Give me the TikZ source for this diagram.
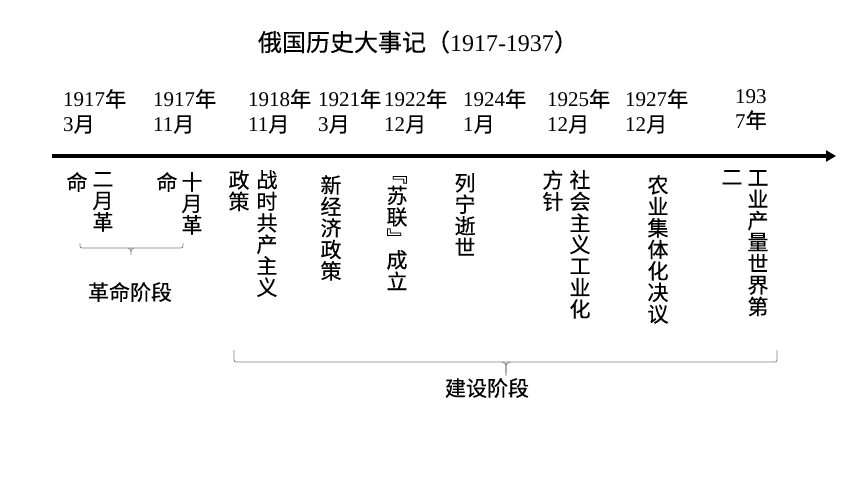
\documentclass[tikz,border=0pt]{standalone}
\usepackage{fontspec}
\setmainfont{Liberation Serif}
\newfontfamily\cjk{Noto Sans CJK SC}[FakeBold=0.3]
\usetikzlibrary{arrows.meta}

\newcommand\ym[2]{#1{\cjk 年}\\#2{\cjk 月}}

\begin{document}
\begin{tikzpicture}[x=1pt, y=1pt,
    date/.style={anchor=north west, align=left, inner sep=0pt, font=\fontsize{21}{25}\selectfont},
    vcol/.style={anchor=north, align=center, inner sep=0pt, font=\cjk\fontsize{21}{21.5}\selectfont},
    phase/.style={inner sep=0pt, font=\cjk\fontsize{21}{21}\selectfont},
    curly/.style={draw=gray, line width=0.8pt, rounded corners=2pt}]
    \useasboundingbox (0,0) rectangle (860,-484);

    % title
    \node[inner sep=0pt, font=\fontsize{24}{24}\selectfont] at (418,-42) (title)
        {{\cjk 俄国历史大事记（}1917-1937{\cjk ）}};

    % dates
    \node[date] at (63,-89) (d1) {\ym{1917}{3}};
    \node[date] at (153,-89) (d2) {\ym{1917}{11}};
    \node[date] at (248,-89) (d3) {\ym{1918}{11}};
    \node[date] at (318,-89) (d4) {\ym{1921}{3}};
    \node[date] at (384,-89) (d5) {\ym{1922}{12}};
    \node[date] at (463,-89) (d6) {\ym{1924}{1}};
    \node[date] at (547,-89) (d7) {\ym{1925}{12}};
    \node[date] at (625,-89) (d8) {\ym{1927}{12}};
    \node[date] at (735,-89) (d9) {193\\7{\cjk 年}};

    % time axis
    \coordinate (axL) at (52,-156);
    \coordinate (axR) at (836,-156);
    \draw[line width=4pt, -{Triangle[length=10pt, width=11pt]}] (axL) -- (axR);

    % events
    \node[vcol] at (103,-172) (e1) {二\\月\\革};
    \node[vcol] at (77,-172) (e1b) {命};
    \node[vcol] at (192,-172) (e2) {十\\月\\革};
    \node[vcol] at (167,-172) (e2b) {命};
    \node[vcol] at (267,-170) (e3) {战\\时\\共\\产\\主\\义};
    \node[vcol] at (239,-170) (e3b) {政\\策};
    \node[vcol] at (331,-175) (e4) {新\\经\\济\\政\\策};
    \node[vcol] at (397,-176) (e5) {﹃\\苏\\联\\﹄\\成\\立};
    \node[vcol] at (465,-173) (e6) {列\\宁\\逝\\世};
    \node[vcol] at (580,-170) (e7) {社\\会\\主\\义\\工\\业\\化};
    \node[vcol] at (553,-170) (e7b) {方\\针};
    \node[vcol] at (658,-175) (e8) {农\\业\\集\\体\\化\\决\\议};
    \node[vcol] at (758,-170) (e9) {工\\业\\产\\量\\世\\界\\第};
    \node[vcol] at (732,-170) (e9b) {二};

    % phases
    \coordinate (r1) at (80,-243);
    \coordinate (r2) at (183,-243);
    \coordinate (rm) at (131,-248);
    \coordinate (rt) at (131,-256);
    \draw[curly] (r1) |- (rm) -| (r2);
    \draw[curly] (rm) ++(-3,0) to[out=0, in=90] (rt) to[out=90, in=180] ++(3,8);
    \node[phase] at (130,-292) (rev) {革命阶段};

    \coordinate (c1) at (234,-350);
    \coordinate (c2) at (777,-350);
    \coordinate (cm) at (506,-362);
    \coordinate (ct) at (506,-377);
    \draw[curly] (c1) |- (cm) -| (c2);
    \draw[curly] (cm) ++(-4,0) to[out=0, in=90] (ct) to[out=90, in=180] ++(4,15);
    \node[phase] at (487,-388) (con) {建设阶段};
\end{tikzpicture}
\end{document}
